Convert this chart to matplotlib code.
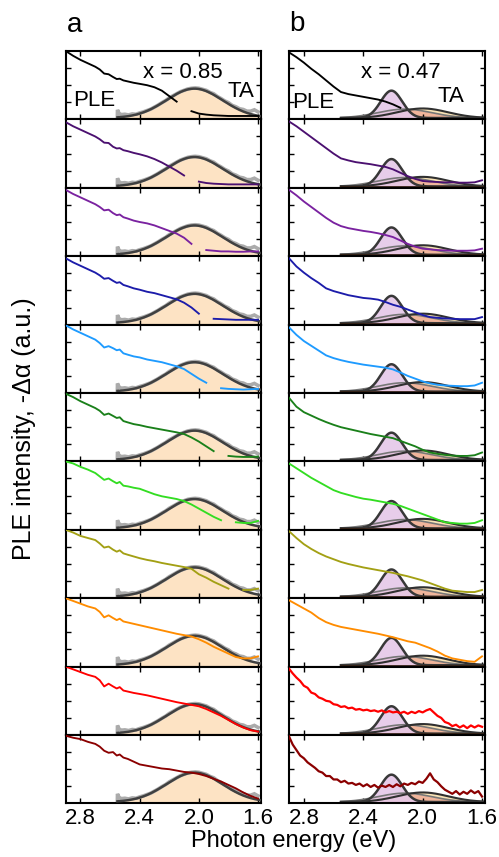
import numpy as np
import matplotlib
matplotlib.use('Agg')
import matplotlib.pyplot as plt

plt.rcParams['font.family'] = ['Liberation Sans', 'DejaVu Sans']

nan = np.nan

# ---------------- data ----------------
row_colors = ['#000000', '#4b1070', '#7a22a0', '#1c1caa', '#1e9bff', '#1a801a',
              '#33dd22', '#a3a014', '#ff8c00', '#ff0000', '#8b0000']

xticks = [2.8, 2.4, 2.0, 1.6]
xtick_labels = ['2.8', '2.4', '2.0', '1.6']

# Panel a : PLE spectra (photon energy grid)
E_a = [2.90, 2.85, 2.80, 2.75, 2.70, 2.67, 2.64, 2.61, 2.58, 2.555, 2.535, 2.51, 2.48,
       2.44, 2.40, 2.35, 2.30, 2.25, 2.20, 2.15, 2.10, 2.05, 2.00, 1.95, 1.90, 1.85,
       1.80, 1.75, 1.70, 1.65, 1.60]
ple_a0 = [1.00, 0.93, 0.87, 0.82, 0.77, 0.73, 0.67, 0.66, 0.62, 0.59, 0.595, 0.57, 0.555,
          0.535, 0.52, 0.50, 0.47, 0.42, 0.34, 0.26, nan, 0.12, 0.085, 0.07, 0.06, 0.055,
          0.05, 0.05, 0.05, 0.05, 0.05]
ple_a1 = [0.96, 0.90, 0.85, 0.80, 0.75, 0.71, 0.66, 0.655, 0.60, 0.575, 0.58, 0.55, 0.535,
          0.51, 0.49, 0.46, 0.42, 0.37, 0.31, 0.25, 0.18, nan, 0.09, 0.07, 0.06, 0.055,
          0.05, 0.05, 0.05, 0.05, 0.05]
ple_a2 = [0.97, 0.91, 0.86, 0.81, 0.76, 0.72, 0.67, 0.68, 0.63, 0.60, 0.61, 0.57, 0.55,
          0.52, 0.50, 0.48, 0.45, 0.41, 0.37, 0.33, 0.27, 0.18, nan, 0.09, 0.08, 0.07,
          0.07, 0.065, 0.065, 0.07, 0.07]
ple_a3 = [0.97, 0.91, 0.86, 0.81, 0.76, 0.72, 0.67, 0.68, 0.64, 0.61, 0.62, 0.58, 0.56,
          0.53, 0.51, 0.48, 0.46, 0.43, 0.40, 0.37, 0.32, 0.25, 0.16, nan, 0.085, 0.08,
          0.075, 0.07, 0.07, 0.07, 0.07]
ple_a4 = [0.99, 0.93, 0.88, 0.83, 0.78, 0.73, 0.665, 0.685, 0.655, 0.625, 0.635, 0.58, 0.56,
          0.535, 0.52, 0.49, 0.47, 0.45, 0.42, 0.39, 0.35, 0.28, 0.21, 0.15, nan, 0.07,
          0.06, 0.055, 0.05, 0.055, 0.06]
ple_a5 = [0.99, 0.94, 0.88, 0.83, 0.78, 0.74, 0.68, 0.70, 0.665, 0.635, 0.645, 0.59, 0.57,
          0.545, 0.53, 0.505, 0.485, 0.465, 0.445, 0.425, 0.40, 0.35, 0.29, 0.22, 0.15, nan,
          0.08, 0.07, 0.065, 0.065, 0.07]
ple_a6 = [1.00, 0.97, 0.92, 0.88, 0.83, 0.78, 0.73, 0.75, 0.71, 0.68, 0.70, 0.645, 0.635,
          0.615, 0.60, 0.56, 0.52, 0.49, 0.47, 0.45, 0.42, 0.37, 0.31, 0.25, 0.19, 0.14,
          nan, 0.11, 0.10, 0.10, 0.13]
ple_a7 = [1.00, 0.96, 0.91, 0.88, 0.85, 0.80, 0.74, 0.755, 0.71, 0.68, 0.70, 0.655, 0.635,
          0.61, 0.585, 0.56, 0.54, 0.515, 0.495, 0.475, 0.455, 0.43, 0.35, 0.30, 0.24, 0.19,
          0.14, nan, 0.12, 0.12, 0.14]
ple_a8 = [1.00, 0.96, 0.92, 0.88, 0.85, 0.80, 0.72, 0.75, 0.71, 0.68, 0.70, 0.66, 0.645,
          0.625, 0.605, 0.58, 0.555, 0.53, 0.505, 0.48, 0.46, 0.44, 0.40, 0.35, 0.29, 0.24,
          0.19, 0.14, 0.12, 0.12, 0.15]
ple_a9 = [1.00, 0.96, 0.92, 0.88, 0.85, 0.80, 0.71, 0.75, 0.71, 0.68, 0.70, 0.65, 0.635,
          0.615, 0.60, 0.58, 0.555, 0.53, 0.505, 0.48, 0.46, 0.44, 0.42, 0.38, 0.33, 0.28,
          0.22, 0.16, 0.11, 0.07, 0.05]
ple_a10 = [0.99, 0.96, 0.94, 0.90, 0.87, 0.83, 0.77, 0.74, 0.75, 0.70, 0.715, 0.67, 0.65,
           0.61, 0.57, 0.55, 0.53, 0.51, 0.50, 0.48, 0.46, 0.45, 0.43, 0.40, 0.36, 0.32,
           0.27, 0.22, 0.16, 0.11, 0.07]
ple_a = [ple_a0, ple_a1, ple_a2, ple_a3, ple_a4, ple_a5, ple_a6, ple_a7, ple_a8, ple_a9, ple_a10]

# Panel a : transient absorption (TA) data
E_ta = [2.551, 2.550, 2.540, 2.525, 2.500, 2.475, 2.450, 2.425, 2.400, 2.375, 2.350, 2.325,
        2.300, 2.275, 2.250, 2.225, 2.200, 2.175, 2.150, 2.125, 2.100, 2.075, 2.050, 2.025,
        2.000, 1.975, 1.950, 1.925, 1.900, 1.875, 1.850, 1.825, 1.800, 1.775, 1.750, 1.725,
        1.700, 1.675, 1.650, 1.625, 1.600]
ta_a = [0.02, 0.14, 0.09, 0.07, 0.075, 0.065, 0.08, 0.075, 0.095, 0.11, 0.13, 0.15, 0.18,
        0.21, 0.245, 0.275, 0.315, 0.345, 0.375, 0.405, 0.425, 0.445, 0.455, 0.46, 0.455,
        0.44, 0.425, 0.395, 0.375, 0.335, 0.305, 0.27, 0.245, 0.205, 0.185, 0.155, 0.145,
        0.12, 0.12, 0.14, 0.11]

# Gaussian fit parameters (center eV, sigma eV, amplitude, offset)
fit_a = (2.03, 0.19, 0.43, 0.02)
fit_b_narrow = (2.21, 0.072, 0.40, 0.02)
fit_b_mid = (2.12, 0.18, 0.13, 0.02)
fit_b_broad = (2.00, 0.17, 0.14, 0.02)
fit_range = (2.55, 1.58)

# Panel b : PLE spectra
E_b = [2.90, 2.85, 2.80, 2.75, 2.70, 2.65, 2.60, 2.55, 2.50, 2.45, 2.40, 2.35, 2.30, 2.25,
       2.20, 2.15, 2.10, 2.05, 2.00, 1.95, 1.90, 1.85, 1.80, 1.75, 1.70, 1.65, 1.60]
ple_b0 = [0.98, 0.91, 0.83, 0.74, 0.66, 0.57, 0.48, 0.40, 0.37, 0.35, 0.33, 0.31, 0.29, 0.26,
          0.22, 0.17, nan, nan, nan, nan, nan, nan, nan, nan, nan, nan, nan]
ple_b1 = [0.97, 0.90, 0.82, 0.74, 0.66, 0.58, 0.50, 0.43, 0.40, 0.375, 0.36, 0.345, 0.325,
          0.305, 0.27, 0.22, 0.17, 0.13, 0.10, 0.09, 0.085, 0.08, 0.08, 0.075, 0.075, 0.08, 0.11]
ple_b2 = [0.97, 0.89, 0.80, 0.72, 0.64, 0.56, 0.49, 0.44, 0.41, 0.39, 0.37, 0.355, 0.335,
          0.31, 0.28, 0.23, 0.18, 0.14, 0.11, 0.10, 0.09, 0.085, 0.08, 0.08, 0.08, 0.085, 0.11]
ple_b3 = [0.97, 0.85, 0.76, 0.68, 0.61, 0.53, 0.49, 0.46, 0.43, 0.41, 0.39, 0.38, 0.365,
          0.33, 0.29, 0.26, 0.22, 0.18, 0.14, 0.11, 0.10, 0.09, 0.085, 0.08, 0.08, 0.08, 0.11]
ple_b4 = [0.96, 0.85, 0.76, 0.69, 0.62, 0.55, 0.51, 0.48, 0.455, 0.435, 0.415, 0.40, 0.385,
          0.37, 0.345, 0.30, 0.25, 0.21, 0.17, 0.14, 0.12, 0.11, 0.105, 0.10, 0.10, 0.11, 0.15]
ple_b5 = [0.93, 0.80, 0.72, 0.67, 0.62, 0.575, 0.535, 0.50, 0.475, 0.45, 0.425, 0.40, 0.38,
          0.36, 0.34, 0.30, 0.26, 0.22, 0.17, 0.13, 0.11, 0.095, 0.085, 0.08, 0.08, 0.09, 0.13]
ple_b6 = [0.97, 0.90, 0.83, 0.76, 0.70, 0.64, 0.58, 0.54, 0.51, 0.48, 0.455, 0.44, 0.42,
          0.40, 0.38, 0.35, 0.31, 0.27, 0.23, 0.19, 0.15, 0.11, 0.10, 0.09, 0.09, 0.10, 0.14]
ple_b7 = [0.98, 0.88, 0.79, 0.72, 0.66, 0.61, 0.57, 0.53, 0.50, 0.475, 0.45, 0.43, 0.41,
          0.39, 0.37, 0.345, 0.32, 0.29, 0.26, 0.22, 0.18, 0.14, 0.11, 0.10, 0.09, 0.09, 0.12]
ple_b8 = [0.97, 0.91, 0.85, 0.79, 0.71, 0.65, 0.61, 0.58, 0.56, 0.54, 0.52, 0.50, 0.48,
          0.455, 0.43, 0.40, 0.37, 0.35, 0.31, 0.27, 0.22, 0.16, 0.12, 0.10, 0.08, 0.07, 0.15]

# Panel b noisy rows (finer energy grid 2.900 -> 1.600, step 0.025)
E_bf = [2.900, 2.875, 2.850, 2.825, 2.800, 2.775, 2.750, 2.725, 2.700, 2.675,
        2.650, 2.625, 2.600, 2.575, 2.550, 2.525, 2.500, 2.475, 2.450, 2.425,
        2.400, 2.375, 2.350, 2.325, 2.300, 2.275, 2.250, 2.225, 2.200, 2.175,
        2.150, 2.125, 2.100, 2.075, 2.050, 2.025, 2.000, 1.975, 1.950, 1.925,
        1.900, 1.875, 1.850, 1.825, 1.800, 1.775, 1.750, 1.725, 1.700, 1.675,
        1.650, 1.625, 1.600]
ple_b9 = [0.97, 0.90, 0.84, 0.79, 0.72, 0.69, 0.62, 0.60, 0.55, 0.53,
          0.50, 0.49, 0.45, 0.44, 0.41, 0.42, 0.39, 0.40, 0.37, 0.38,
          0.36, 0.37, 0.35, 0.36, 0.34, 0.36, 0.33, 0.35, 0.33, 0.34,
          0.32, 0.34, 0.31, 0.34, 0.32, 0.35, 0.33, 0.36, 0.38, 0.33,
          0.28, 0.25, 0.19, 0.17, 0.13, 0.15, 0.11, 0.14, 0.10, 0.14,
          0.11, 0.14, 0.12]
ple_b10 = [0.98, 0.86, 0.78, 0.70, 0.66, 0.60, 0.56, 0.52, 0.47, 0.45,
           0.40, 0.40, 0.35, 0.35, 0.31, 0.33, 0.29, 0.30, 0.27, 0.29,
           0.25, 0.28, 0.24, 0.27, 0.23, 0.26, 0.24, 0.27, 0.24, 0.28,
           0.25, 0.29, 0.27, 0.30, 0.28, 0.32, 0.30, 0.36, 0.44, 0.35,
           0.31, 0.25, 0.20, 0.17, 0.14, 0.18, 0.13, 0.17, 0.14, 0.19,
           0.15, 0.18, 0.10]
ple_b = [ple_b0, ple_b1, ple_b2, ple_b3, ple_b4, ple_b5, ple_b6, ple_b7, ple_b8, ple_b9, ple_b10]
E_b_rows = [E_b] * 9 + [E_bf, E_bf]


def gauss(x, p):
    c, s, a, o = p
    return o + a * np.exp(-(x - c) ** 2 / (2 * s ** 2))


# ---------------- figure ----------------
W, H = 499, 857
fig = plt.figure(figsize=(W / 100, H / 100), dpi=100)

top_px, bot_px = 51.0, 803.4
nrows = 11
row_h = (bot_px - top_px) / nrows
col_left = [65.7, 289.0]
col_right = [261.0, 485.0]

xf = np.linspace(fit_range[0], fit_range[1], 300)

for col in range(2):
    for r in range(nrows):
        y0 = top_px + r * row_h
        ax = fig.add_axes([col_left[col] / W, 1 - (y0 + row_h) / H,
                           (col_right[col] - col_left[col]) / W, row_h / H])
        ax.set_xlim(2.9, 1.58)
        ax.set_ylim(0, 1.0)
        if col == 0:
            g = gauss(xf, fit_a)
            ax.fill_between(xf, 0, g, color='#fde3c4', lw=0, zorder=1)
            ax.plot(E_ta, ta_a, color='#ababab', lw=2.6, zorder=2,
                    solid_joinstyle='miter')
            ax.plot(xf, g, color='#404040', lw=1.8, zorder=3)
            ax.plot(E_a, ple_a[r], color=row_colors[r], lw=1.35, zorder=4)
        else:
            gb = gauss(xf, fit_b_broad)
            gm = gauss(xf, fit_b_mid)
            gn = gauss(xf, fit_b_narrow)
            ax.fill_between(xf, 0, gb, color='#f9e4b6', lw=0, zorder=1)
            ax.fill_between(xf, 0, gm, color='#f0b59b', lw=0, zorder=1.1)
            ax.fill_between(xf, 0, gn, color='#e5c8e8', lw=0, alpha=0.9, zorder=1.2)
            ax.plot(xf, gm, color='#777777', lw=1.2, zorder=2)
            ax.plot(xf, gb, color='#303030', lw=1.5, zorder=2.1)
            ax.plot(xf, gn, color='#383838', lw=1.8, zorder=2.2)
            ax.plot(xf, np.full_like(xf, 0.012), color='#3a2418', lw=2.0, zorder=2.3)
            ax.plot(E_b_rows[r], ple_b[r], color=row_colors[r],
                    lw=1.6 if r >= 9 else 1.35, zorder=4)
        ax.set_xticks(xticks)
        ax.set_xticklabels(xtick_labels)
        ax.set_yticks([0.25, 0.5, 0.75])
        ax.set_yticklabels([])
        ax.tick_params(direction='in', top=True, right=True, length=3.5, width=1.0,
                       labelsize=16, pad=3, labelbottom=(r == nrows - 1))
        for sp in ax.spines.values():
            sp.set_linewidth(1.5)

        if r == 0:
            if col == 0:
                ax.text(0.60, 0.60, 'x = 0.85', transform=ax.transAxes, ha='center',
                        va='baseline', fontsize=16, zorder=6)
                ax.text(0.037, 0.196, 'PLE', transform=ax.transAxes, ha='left',
                        va='baseline', fontsize=16, zorder=6)
                ax.text(0.826, 0.33, 'TA', transform=ax.transAxes, ha='left',
                        va='baseline', fontsize=16, zorder=6)
            else:
                ax.text(0.571, 0.60, 'x = 0.47', transform=ax.transAxes, ha='center',
                        va='baseline', fontsize=16, zorder=6)
                ax.text(0.015, 0.166, 'PLE', transform=ax.transAxes, ha='left',
                        va='baseline', fontsize=16, zorder=6)
                ax.text(0.76, 0.254, 'TA', transform=ax.transAxes, ha='left',
                        va='baseline', fontsize=16, zorder=6)

fig.text(75 / W, 1 - 25 / H, 'a', fontsize=20, ha='center', va='center')
fig.text(297 / W, 1 - 24 / H, 'b', fontsize=20, ha='center', va='center')
fig.text(294 / W, 1 - 841 / H, 'Photon energy (eV)', fontsize=17, ha='center', va='center')
fig.text(24 / W, 1 - 429 / H, 'PLE intensity, -Δα (a.u.)', fontsize=18, rotation=90,
         ha='center', va='center')

fig.savefig('out.png', dpi=100)
